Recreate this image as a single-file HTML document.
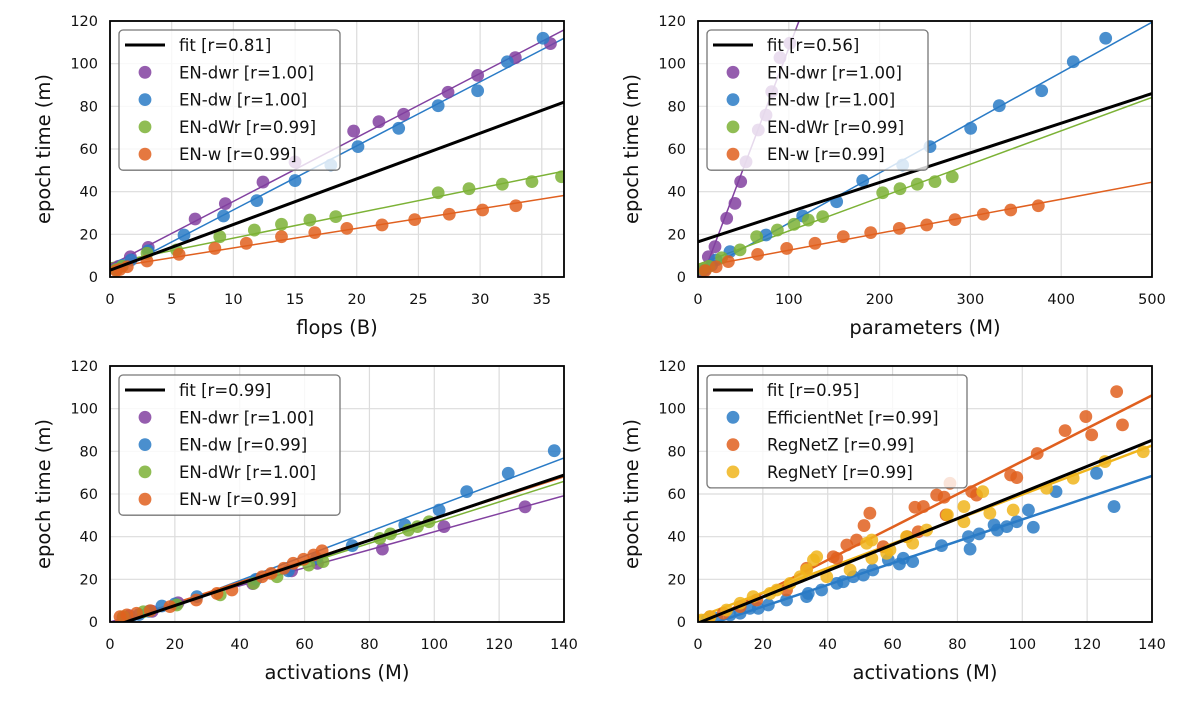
<!DOCTYPE html>
<html><head><meta charset="utf-8"><style>
body{margin:0;background:#fff;}
svg text{font-family:"DejaVu Sans","Liberation Sans",sans-serif;}
</style></head><body>
<svg id="fig" width="1182" height="702" viewBox="0 0 1182 702" xmlns="http://www.w3.org/2000/svg"></svg>
<script>
// ---- Panel 1: flops (B) ----
const p1_dwr_x=[0.4,0.7,1.65,3.1,6.9,9.35,12.4,15.0,19.75,21.8,23.8,27.4,29.8,32.85,35.7];
const p1_dwr_y=[4,5,9.5,13.9,27.2,34.4,44.5,53.9,68.4,72.8,76.3,86.6,94.5,102.8,109.4];
const p1_dw_x=[0.5,1.0,1.7,3.1,6.0,9.2,11.9,15.0,17.9,20.1,23.4,26.6,29.8,32.2,35.1];
const p1_dw_y=[3.5,5.5,8,12.3,19.7,28.6,35.8,45.2,52.5,61.1,69.7,80.3,87.3,100.9,111.9];
const p1_dWr_x=[0.5,1.0,3.0,5.4,8.9,11.7,13.9,16.2,18.3,26.6,29.1,31.8,34.2,36.6];
const p1_dWr_y=[3.5,5,11.1,12.7,18.9,22,24.7,26.7,28.3,39.5,41.4,43.5,44.7,47];
const p1_w_x=[0.5,0.8,1.4,3.0,5.6,8.5,11.05,13.9,16.6,19.2,22.05,24.7,27.5,30.2,32.9];
const p1_w_y=[3,3.5,4.8,7.5,10.6,13.4,15.8,18.9,20.8,22.8,24.4,26.9,29.4,31.4,33.4];
// ---- Panel 2: parameters (M) ----
const p2_dwr_x=[3,5,11.4,18.7,31.6,40.7,47,52.9,66.4,74.9,81.2,90.3,101.3];
const p2_dwr_y=[2,3,9.5,14.2,27.5,34.5,44.7,54,68.9,75.9,86.9,102.8,109.6];
const p2_dw_x=[8,15,20,35.2,74.9,115.3,152.7,181.4,225.4,255.5,300.3,331.8,378.5,413.3,449];
const p2_dw_y=[3.5,5.5,8,11.9,19.7,28.6,35.3,45.2,52.5,61.1,69.7,80.3,87.3,100.9,111.9];
const p2_dWr_x=[5,12,26,46.3,64.6,87.4,105.7,121.5,137.3,203.4,222.5,241.5,261,280];
const p2_dWr_y=[3.5,5,9,12.7,18.9,22,24.7,26.7,28.3,39.5,41.4,43.5,44.7,47];
const p2_w_x=[8,20,33.4,65.7,97.7,128.9,160,190.2,221.7,251.9,283,314.2,344.4,374.8];
const p2_w_y=[3,4.8,7.2,10.6,13.4,15.8,18.9,20.8,22.8,24.4,26.9,29.4,31.4,33.4];
// ---- Panel 3: activations (M) ----
const p3_dwr_x=[4,6,13,21,44,56,64,84,103,128];
const p3_dwr_y=[2,3,5,9,18,24,27.5,34.2,44.7,54];
const p3_dw_x=[5,9,12,16,20,26.8,45,55,63.7,74.7,90.9,101.5,110,122.8,137];
const p3_dw_y=[2,3.5,5,7.5,8.5,11.9,20,24,29.9,35.8,45.5,52.5,61.1,69.7,80.3];
const p3_dWr_x=[4.1,10.3,20.6,34,44.3,51.5,61.3,65.7,83.2,86.5,92,94.8,98.4];
const p3_dWr_y=[2.5,4.8,8,12.7,18.1,21.2,26.7,28.3,39.2,41.3,43.1,44.7,47];
const p3_w_x=[3.1,5.2,8.2,12.4,18.5,26.6,33,37.6,46.9,49.7,53.6,56.5,59.7,62.8,65.4];
const p3_w_y=[2.5,3.3,4.1,5.3,7.2,10.3,13.4,15,21.2,22.8,25.2,27.5,29.4,31.4,33.4];
// ---- Panel 4: activations (M), families ----
const p4_eff_x=[2.7,5.8,9.9,13,16,18.6,21.7,27.3,33.5,34,38.1,42.8,44.8,47.9,51,53.9,58.7,62.1,63.3,66.2,75.1,83.4,83.9,86.7,91.3,92.3,95.2,98.3,101.9,103.4,110.4,122.9,128.3];
const p4_eff_y=[0.9,1.7,3.3,4.1,6.4,6.4,8,10.3,11.9,13.4,15,18.1,18.9,21.2,22,24.4,29.1,27.2,29.9,28.3,35.8,40,34.2,41.3,45.5,43.1,44.7,47,52.5,44.4,61.1,69.7,54.1];
const p4_rz_x=[3.7,7.8,13,18.1,27.3,33.5,41.7,42.8,45.9,48.9,51.2,53,57.1,64.5,66.9,67.9,69.5,73.6,75.9,76.5,77.7,84.4,85.9,96.4,98.3,104.6,113.2,119.6,121.4,129.1,130.9];
const p4_rz_y=[2.5,4.1,7.2,10.3,15,25.2,30.6,29.9,36.1,38.4,45.2,51,35.3,40,53.8,42.3,54.1,59.5,58.5,50.2,65,61.1,59.5,68.9,67.7,79,89.7,96.3,87.7,108,92.4];
const p4_ry_x=[1,3.7,8.8,13,17,22.2,24.3,28.4,31.5,33.5,35.6,36.6,39.7,46.9,52,53.6,53.6,58.2,59.2,64.3,66.2,70.5,76.9,82,82,87.8,90,97.2,107.5,115.7,125.5,137.3];
const p4_ry_y=[0.9,2.5,5.6,8.8,11.9,13.4,15,18.1,21.2,24.4,29.1,30.6,21.2,24.4,36.9,38.4,29.9,32.2,33.8,40,36.9,43.1,50.2,54.1,47,61.1,51,52.5,62.7,67.4,75.2,79.8];
// black overall fit lines [intercept, slope] per panel
const fitIntercepts=[3.2,16.5,-2.5,-0.5];
const fitSlopes=[2.14,0.139,0.51,0.612];
const fitLabels=["fit [r=0.81]","fit [r=0.56]","fit [r=0.99]","fit [r=0.95]"];

const NS="http://www.w3.org/2000/svg";
const svg=document.getElementById('fig');
function mk(tag,attrs,parent){const e=document.createElementNS(NS,tag);for(const k in attrs)e.setAttribute(k,attrs[k]);(parent||svg).appendChild(e);return e;}
function regress(xs,ys){const n=xs.length;let mx=0,my=0;for(let i=0;i<n;i++){mx+=xs[i];my+=ys[i];}mx/=n;my/=n;let sxy=0,sxx=0;for(let i=0;i<n;i++){sxy+=(xs[i]-mx)*(ys[i]-my);sxx+=(xs[i]-mx)**2;}const b=sxy/sxx;return [my-b*mx,b];}
const C={purple:'#8241a0',blue:'#2a7bc6',green:'#7cb236',orange:'#e0601f',yellow:'#f0b51c'};

function panel(idx,box,xmax,xticks,xlabel,series,legendW,lw){
  const g=mk('g',{});
  
  
  const X=v=>box.x0+(v/xmax)*(box.x1-box.x0);
  const Y=v=>box.y0-(v/120)*(box.y0-box.y1);
  const clipId='clip'+idx;
  const cp=mk('clipPath',{id:clipId},g);mk('rect',{x:box.x0,y:box.y1,width:box.x1-box.x0,height:box.y0-box.y1},cp);
  for(const t of xticks){const l=mk('line',{x1:X(t),x2:X(t),y1:box.y1,y2:box.y0,stroke:'#dcdcdc','stroke-width':1.2},g);
    
    const tx=mk('text',{x:X(t),y:box.y0+27,'font-size':14.5,'text-anchor':'middle',fill:'#111'},g);tx.textContent=t;
    }
  for(let t=0;t<=120;t+=20){const l=mk('line',{x1:box.x0,x2:box.x1,y1:Y(t),y2:Y(t),stroke:'#dcdcdc','stroke-width':1.2},g);
    
    const tx=mk('text',{x:box.x0-12,y:Y(t)+5,'font-size':14.5,'text-anchor':'end',fill:'#111'},g);tx.textContent=t;
    }
  const plot=mk('g',{'clip-path':'url(#'+clipId+')'},g);
  
  for(const s of series){
    const [a,b]=regress(s.x,s.y);
    const ln=mk('line',{x1:X(0),y1:Y(a),x2:X(xmax),y2:Y(a+b*xmax),stroke:s.c,'stroke-width':lw},plot);
    
  }
  for(const s of series){
    for(let i=0;i<s.x.length;i++){
      const c=mk('circle',{cx:X(s.x[i]),cy:Y(s.y[i]),r:6.4,fill:s.c,'fill-opacity':0.85},plot);
      
    }
  }
  const fl=mk('line',{x1:X(0),y1:Y(fitIntercepts[idx]),x2:X(xmax),y2:Y(fitIntercepts[idx]+fitSlopes[idx]*xmax),stroke:'#000','stroke-width':3},plot);
  
  const fr=mk('rect',{x:box.x0,y:box.y1,width:box.x1-box.x0,height:box.y0-box.y1,fill:'none',stroke:'#000','stroke-width':1.8},g);
  
  const xl=mk('text',{x:(box.x0+box.x1)/2,y:box.y0+57,'font-size':19.5,'text-anchor':'middle',fill:'#111'},g);xl.textContent=xlabel;
  
  const ax=box.x0-60, cy=(box.y0+box.y1)/2;
  const yl=mk('text',{x:ax,y:cy,'font-size':19.5,'text-anchor':'middle',fill:'#111',transform:'rotate(-90 '+ax+' '+cy+')'},g);yl.textContent='epoch time (m)';
  
  // legend
  const lx=box.x0+9,ly=box.y1+9,rows=series.length+1,lh=27.3;
  const lg=mk('g',{},g);
  mk('rect',{x:lx,y:ly,width:legendW,height:15+(rows-1)*lh+16,rx:4,fill:'#fff','fill-opacity':0.8,stroke:'#777','stroke-width':1.3},lg);
  const e0=mk('line',{x1:lx+6,x2:lx+46,y1:ly+15,y2:ly+15,stroke:'#000','stroke-width':3},lg);
  
  const t0=mk('text',{x:lx+60,y:ly+21,'font-size':16.5,fill:'#111'},lg);t0.textContent=fitLabels[idx];
  
  series.forEach((s,i)=>{const yy=ly+15+(i+1)*lh;
    const m=mk('circle',{cx:lx+26,cy:yy,r:6.4,fill:s.c,'fill-opacity':0.85},lg);
    
    const t=mk('text',{x:lx+60,y:yy+6,'font-size':16.5,fill:'#111'},lg);t.textContent=s.label;
    });
}
const topBox1={x0:110,x1:564,y0:277,y1:21}, topBox2={x0:698,x1:1152,y0:277,y1:21};
const botBox1={x0:110,x1:564,y0:622,y1:366}, botBox2={x0:698,x1:1152,y0:622,y1:366};
panel(0,topBox1,36.8,[0,5,10,15,20,25,30,35],'flops (B)',[
 {key:'en-dwr',label:'EN-dwr [r=1.00]',c:C.purple,x:p1_dwr_x,y:p1_dwr_y},
 {key:'en-dw',label:'EN-dw [r=1.00]',c:C.blue,x:p1_dw_x,y:p1_dw_y},
 {key:'en-dWr',label:'EN-dWr [r=0.99]',c:C.green,x:p1_dWr_x,y:p1_dWr_y},
 {key:'en-w',label:'EN-w [r=0.99]',c:C.orange,x:p1_w_x,y:p1_w_y}],221,1.5);
panel(1,topBox2,500,[0,100,200,300,400,500],'parameters (M)',[
 {key:'en-dwr',label:'EN-dwr [r=1.00]',c:C.purple,x:p2_dwr_x,y:p2_dwr_y},
 {key:'en-dw',label:'EN-dw [r=1.00]',c:C.blue,x:p2_dw_x,y:p2_dw_y},
 {key:'en-dWr',label:'EN-dWr [r=0.99]',c:C.green,x:p2_dWr_x,y:p2_dWr_y},
 {key:'en-w',label:'EN-w [r=0.99]',c:C.orange,x:p2_w_x,y:p2_w_y}],221,1.5);
panel(2,botBox1,140,[0,20,40,60,80,100,120,140],'activations (M)',[
 {key:'en-dwr',label:'EN-dwr [r=1.00]',c:C.purple,x:p3_dwr_x,y:p3_dwr_y},
 {key:'en-dw',label:'EN-dw [r=0.99]',c:C.blue,x:p3_dw_x,y:p3_dw_y},
 {key:'en-dWr',label:'EN-dWr [r=1.00]',c:C.green,x:p3_dWr_x,y:p3_dWr_y},
 {key:'en-w',label:'EN-w [r=0.99]',c:C.orange,x:p3_w_x,y:p3_w_y}],221,1.5);
panel(3,botBox2,140,[0,20,40,60,80,100,120,140],'activations (M)',[
 {key:'efficientnet',label:'EfficientNet [r=0.99]',c:C.blue,x:p4_eff_x,y:p4_eff_y},
 {key:'regnetz',label:'RegNetZ [r=0.99]',c:C.orange,x:p4_rz_x,y:p4_rz_y},
 {key:'regnety',label:'RegNetY [r=0.99]',c:C.yellow,x:p4_ry_x,y:p4_ry_y}],260,2.5);
</script>
</body></html>
